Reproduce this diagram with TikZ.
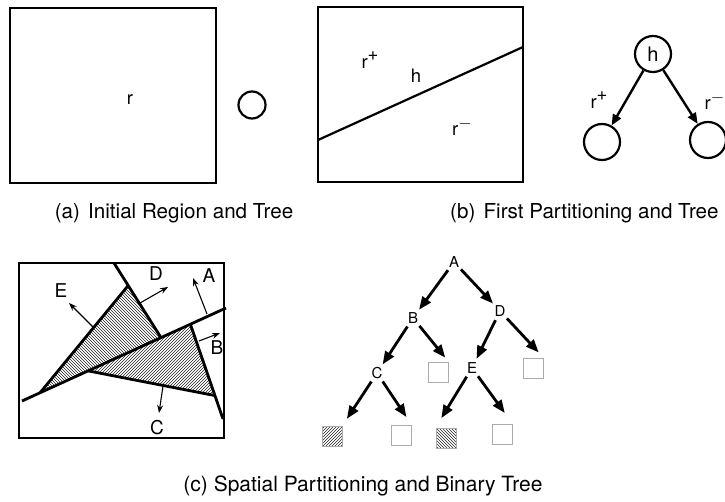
\documentclass[tikz,border=0pt]{standalone}
\usepackage{fontspec}
\setmainfont{TeX Gyre Heros}
\usetikzlibrary{arrows.meta,patterns}

\newcommand{\supplus}{\raisebox{0.42em}{+}}
\newcommand{\supminus}{\raisebox{0.42em}{$-$}}

\begin{document}
\begin{tikzpicture}[x=1pt,y=-1pt,>=Stealth,
  region/.style={line width=1.4pt},
  cut/.style={line width=2.8pt},
  normvec/.style={-{Stealth[length=8pt,width=6pt]},line width=1.1pt},
  rlabel/.style={font=\fontsize{18.5}{19}\selectfont,inner sep=0pt},
  plabel/.style={font=\fontsize{19}{19}\selectfont,inner sep=0pt},
  captext/.style={font=\fontsize{20.6}{21}\selectfont,inner sep=0pt},
  hnode/.style={circle,draw,line width=2.2pt,minimum size=36pt,inner sep=0pt,font=\fontsize{20}{20}\selectfont},
  hedge/.style={-{Triangle[length=11pt,width=9pt]},line width=2.4pt},
  tlabel/.style={circle,minimum size=20pt,inner sep=0pt,font=\fontsize{15}{15}\selectfont},
  tedge/.style={-{Triangle[length=13pt,width=10pt]},line width=2.8pt},
  leaf/.style={draw=gray!65,line width=0.9pt,minimum size=20pt,inner sep=0pt},
  hatch/.style={pattern color=black!85}
]
\useasboundingbox (0,0) rectangle (725,502);

% =========================================================
% (a) initial region
% =========================================================
\draw[region] (10,8) rectangle (216,183);
\node[rlabel] (r) at (130,100) {r};
\node[hnode,minimum size=27pt] (root) at (252,105) {};
\node[captext] (capa) at (174,213) {(a)\hspace{0.4em}Initial Region and Tree};

% =========================================================
% (b) first partitioning
% =========================================================
\draw[region] (318,7) rectangle (523,182);
\coordinate (hl) at (318,140);
\coordinate (hr) at (523,47);
\draw[cut,line width=2.2pt] (hl) -- (hr);
\node[rlabel] (rplus) at (370,60) {r\supplus};
\node[rlabel] (hlab) at (416,76) {h};
\node[rlabel] (rminus) at (462,127) {r\supminus};

% tree
\node[hnode] (h) at (653,54) {h};
\node[hnode] (hplus) at (602,142) {};
\node[hnode] (hminus) at (708,140) {};
\draw[hedge] (h) -- (hplus);
\draw[hedge] (h) -- (hminus);
\node[rlabel] (eplus) at (599,100) {r\supplus};
\node[rlabel,anchor=east] (eminus) at (724.5,101) {r\supminus};
\node[captext,anchor=west] (capb) at (450,213) {(b)\hspace{0.4em}First Partitioning and Tree};

% =========================================================
% (c) spatial partitioning
% =========================================================
\draw[region] (19,263) rectangle (224,438);

% cutting lines
\coordinate (aL) at (22,401);  \coordinate (aR) at (226,308);
\coordinate (dT) at (114,263); \coordinate (dB) at (160,336);
\coordinate (eB) at (44,388);  \coordinate (eT) at (127,287);
\coordinate (bT) at (191,326); \coordinate (bB) at (223,419);
\coordinate (cL) at (89,371);  \coordinate (cR) at (212,395);

\coordinate (vDA) at (intersection of dT--dB and aL--aR);
\coordinate (vED) at (intersection of eB--eT and dT--dB);
\coordinate (vEA) at (intersection of eB--eT and aL--aR);
\coordinate (vBA) at (intersection of bT--bB and aL--aR);
\coordinate (vCA) at (intersection of cL--cR and aL--aR);
\coordinate (vCB) at (intersection of cL--cR and bT--bB);

% shaded cells
\fill[hatch,pattern=north west lines] (vED) -- (vDA) -- (vEA) -- cycle;
\fill[hatch,pattern=north east lines] (vCA) -- (vBA) -- (vCB) -- cycle;

\draw[cut] (aL) -- (aR);
\draw[cut] (dT) -- (vDA);
\draw[cut] (vEA) -- (vED);
\draw[cut] (vBA) -- (bB);
\draw[cut] (vCA) -- (vCB);

% normals
\foreach \n/\xa/\ya/\xb/\yb in {E/93/327/69/303, D/140/303/168/287, A/207/314/193/278,
                                B/199/341/220/333, C/163/386/159/413} {
  \coordinate (n\n0) at (\xa,\ya);
  \coordinate (n\n1) at (\xb,\yb);
  \draw[normvec] (n\n0) -- (n\n1);
}
\node[plabel] (labE) at (61,291) {E};
\node[plabel] (labD) at (156,274) {D};
\node[plabel] (labA) at (209,276) {A};
\node[plabel] (labB) at (217,348) {B};
\node[plabel] (labC) at (157,428) {C};

% binary tree
\node[tlabel] (A) at (454,262) {A};
\node[tlabel] (B) at (413,318) {B};
\node[tlabel] (D) at (500,311) {D};
\node[tlabel] (C) at (377,373) {C};
\node[tlabel] (E) at (472,368) {E};

\node[leaf] (Bleaf) at (438,372) {};
\node[leaf] (Dleaf) at (533,368) {};
\node[leaf,hatch,pattern=north east lines] (Cleft) at (332,436) {};
\node[leaf] (Cright) at (401,435) {};
\node[leaf,hatch,pattern=north west lines] (Eleft) at (446,438) {};
\node[leaf] (Eright) at (502,434) {};

\draw[tedge] (A) -- (B);
\draw[tedge] (A) -- (D);
\draw[tedge] (B) -- (C);
\draw[tedge,shorten >=5pt] (B) -- (Bleaf.north east);
\draw[tedge] (D) -- (E);
\draw[tedge,shorten >=7pt] (D) -- (Dleaf.north east);
\draw[tedge,shorten >=8pt] (C) -- (Cleft.north east);
\draw[tedge,shorten >=9pt] (C) -- (Cright.north east);
\draw[tedge,shorten >=11pt] (E) -- (Eleft.north west);
\draw[tedge,shorten >=13pt] (E) -- (Eright.north east);

\node[captext,font=\fontsize{21}{21}\selectfont] (capc) at (363,486) {(c) Spatial Partitioning and Binary Tree};

\end{tikzpicture}
\end{document}
